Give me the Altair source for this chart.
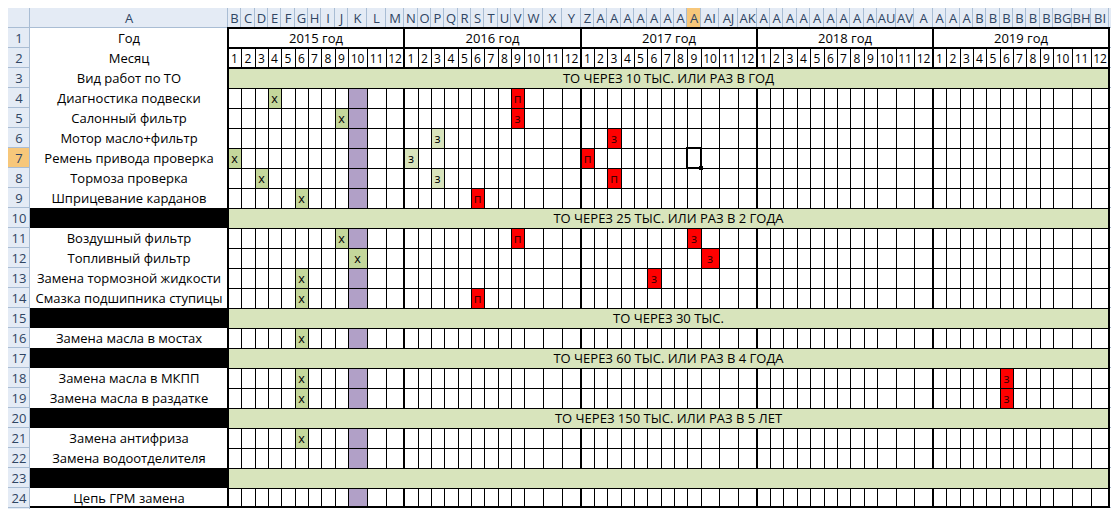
import altair as alt
import pandas as pd

# ---------------- data read from the sheet ----------------
years = [2015, 2016, 2017, 2018, 2019]
year_labels = ["2015 год", "2016 год", "2017 год", "2018 год", "2019 год"]
month_numbers = [1, 2, 3, 4, 5, 6, 7, 8, 9, 10, 11, 12]
column_letters = ["B", "C", "D", "E", "F", "G", "H", "I", "J", "K", "L", "M",
                  "N", "O", "P", "Q", "R", "S", "T", "U", "V", "W", "X", "Y",
                  "Z", "AA", "AB", "AC", "AD", "AE", "AF", "AG", "AH", "AI", "AJ", "AK",
                  "AL", "AM", "AN", "AO", "AP", "AQ", "AR", "AS", "AT", "AU", "AV", "AW",
                  "AX", "AY", "AZ", "BA", "BB", "BC", "BD", "BE", "BF", "BG", "BH", "BI"]
row_numbers = list(range(1, 25))
row_labels = ["Год", "Месяц", "Вид работ по ТО",
              "Диагностика подвески", "Салонный фильтр", "Мотор масло+фильтр",
              "Ремень привода проверка", "Тормоза проверка", "Шприцевание карданов",
              "", "Воздушный фильтр", "Топливный фильтр", "Замена тормозной жидкости",
              "Смазка подшипника ступицы", "", "Замена масла в мостах", "",
              "Замена масла в МКПП", "Замена масла в раздатке", "",
              "Замена антифриза", "Замена водоотделителя", "", "Цепь ГРМ замена"]
section_rows = [3, 10, 15, 17, 20, 23]
section_texts = ["ТО ЧЕРЕЗ 10 ТЫС. ИЛИ РАЗ В ГОД",
                 "ТО ЧЕРЕЗ 25 ТЫС. ИЛИ РАЗ В 2 ГОДА",
                 "ТО ЧЕРЕЗ 30 ТЫС.",
                 "ТО ЧЕРЕЗ 60 ТЫС. ИЛИ РАЗ В 4 ГОДА",
                 "ТО ЧЕРЕЗ 150 ТЫС. ИЛИ РАЗ В 5 ЛЕТ",
                 ""]
# done = green "х", plan = pale green "з", due = red
mark_rows = [4, 4, 5, 5, 6, 6, 7, 7, 7, 8, 8, 8, 9, 9,
             11, 11, 11, 12, 12, 13, 13, 14, 14, 16, 18, 18, 19, 19, 21]
mark_years = [2015, 2016, 2015, 2016, 2016, 2017, 2015, 2016, 2017, 2015, 2016, 2017, 2015, 2016,
              2015, 2016, 2017, 2015, 2017, 2015, 2017, 2015, 2016, 2015, 2015, 2019, 2015, 2019, 2015]
mark_months = [4, 9, 9, 9, 3, 3, 1, 1, 1, 3, 3, 3, 6, 6,
               9, 9, 9, 10, 10, 6, 6, 6, 6, 6, 6, 6, 6, 6, 6]
mark_letters = ["х", "п", "х", "з", "з", "з", "х", "з", "п", "х", "з", "п", "х", "п",
                "х", "п", "з", "х", "з", "х", "з", "х", "п", "х", "х", "з", "х", "з", "х"]
mark_kinds = ["done", "due", "done", "due", "plan", "due", "done", "plan", "due", "done", "plan", "due",
              "done", "due", "done", "due", "due", "done", "due", "done", "due", "done", "due",
              "done", "done", "due", "done", "due", "done"]
current_year, current_month = 2015, 10
selected_column, selected_row = "AH", 7

# ---------------- layout / style ----------------
W, H = 1103, 501
RN_W = 22
A_R = 220
NARROW, WIDE = 13.35, 18.7
HEAD_H = 20
ROW_H = 20.0
FONT = "Open Sans"

HDR = "#e4ebf5"
HDR_LINE = "#a9bdd4"
HDR_TEXT = "#2f4563"
SEL = "#f7c77a"
GREEN_SECTION = "#d8e4bc"
KIND_FILL = {"done": "#c4d79b", "plan": "#d8e4bc", "due": "#ff0000"}
KIND_TEXT = {"done": "#000000", "plan": "#000000", "due": "#3a0000"}
PURPLE = "#b1a0c7"

edges = [A_R]
pos = float(A_R)
for _y in years:
    for m in month_numbers:
        pos += NARROW if m <= 9 else WIDE
        edges.append(pos)
edges = [round(e) for e in edges]
END = edges[-1]
NCOL = len(edges) - 1


def ytop(r):
    return round(HEAD_H + (r - 1) * ROW_H)


def col_index(year, month):
    return years.index(year) * 12 + (month - 1)


# ---------------- fills ----------------
rects = []


def add_rect(x, x2, y, y2, fill):
    rects.append(dict(x=x, x2=x2, y=y, y2=y2, fill=fill))


add_rect(0, W, 0, HEAD_H, HDR)
add_rect(0, RN_W, 0, H, HDR)
si = column_letters.index(selected_column)
add_rect(edges[si], edges[si + 1], 0, HEAD_H, SEL)
add_rect(0, RN_W, ytop(selected_row), ytop(selected_row + 1), SEL)
for r in section_rows:
    add_rect(A_R, END, ytop(r), ytop(r + 1), GREEN_SECTION)
    if r != section_rows[0]:
        add_rect(RN_W, A_R, ytop(r), ytop(r + 1), "#000000")
marked = set()
for r, yv, mv in zip(mark_rows, mark_years, mark_months):
    marked.add((r, col_index(yv, mv)))
hi = col_index(current_year, current_month)
for r in range(4, 25):
    if r not in section_rows and (r, hi) not in marked:
        add_rect(edges[hi], edges[hi + 1], ytop(r), ytop(r + 1), PURPLE)
for r, yv, mv, kd in zip(mark_rows, mark_years, mark_months, mark_kinds):
    i = col_index(yv, mv)
    add_rect(edges[i], edges[i + 1], ytop(r), ytop(r + 1), KIND_FILL[kd])
rect_df = pd.DataFrame(rects)

# ---------------- lines ----------------
thin, thick, light = [], [], []


def seg(lst, x, y, x2, y2):
    lst.append(dict(x=x, y=y, x2=x2, y2=y2))


seg(light, 0, HEAD_H - 0.5, W, HEAD_H - 0.5)
seg(light, RN_W - 0.5, 0, RN_W - 0.5, H)
seg(light, A_R - 0.5, 0, A_R - 0.5, HEAD_H)
for e in edges:
    seg(light, e - 0.5, 0, e - 0.5, HEAD_H)
for r in range(1, 26):
    seg(light, 0, ytop(r) - 0.5, RN_W, ytop(r) - 0.5)
    seg(light, END, ytop(r) - 0.5, W, ytop(r) - 0.5)

for r in (1, 2, 3):
    seg(thick, A_R, ytop(r), END, ytop(r))
seg(thick, RN_W, ytop(25) - 1, END + 1, ytop(25) - 1)
seg(thick, A_R, ytop(1) - 1, A_R, ytop(25))
seg(thick, END, ytop(1) - 1, END, ytop(25))
year_bounds = [edges[12 * k] for k in range(1, len(years))]
body_rows = [r for r in range(4, 25) if r not in section_rows]
for xb in year_bounds:
    seg(thick, xb, ytop(1), xb, ytop(3))
    for r in body_rows:
        seg(thick, xb, ytop(r), xb, ytop(r + 1))

for r in range(4, 25):
    seg(thin, A_R, ytop(r) + 0.5, END, ytop(r) + 0.5)
inner = [e for e in edges[1:-1] if e not in year_bounds]
for e in inner:
    seg(thin, e + 0.5, ytop(2), e + 0.5, ytop(3))
    for r in body_rows:
        seg(thin, e + 0.5, ytop(r), e + 0.5, ytop(r + 1))

thin_df, thick_df, light_df = pd.DataFrame(thin), pd.DataFrame(thick), pd.DataFrame(light)

# ---------------- texts ----------------
texts = []


def add_text(x, y, t, size, color):
    texts.append(dict(x=x, y=y, t=t, size=size, color=color))


def ymid(r):
    return (ytop(r) + ytop(r + 1)) / 2 + 0.5


add_text((RN_W + A_R) / 2, HEAD_H / 2 + 0.5, "A", 13, HDR_TEXT)
for n in row_numbers:
    add_text(RN_W / 2, ymid(n), str(n), 13, HDR_TEXT)
for n, lab in zip(row_numbers, row_labels):
    if lab:
        add_text((RN_W + A_R) / 2, ymid(n), lab, 13, "#000000")
for k, yl in enumerate(year_labels):
    add_text((edges[12 * k] + edges[12 * k + 12]) / 2, ymid(1), yl, 13, "#000000")
for i in range(NCOL):
    add_text((edges[i] + edges[i + 1]) / 2, ymid(2), str(month_numbers[i % 12]), 12, "#000000")
for r, st in zip(section_rows, section_texts):
    if st:
        add_text((A_R + END) / 2, ymid(r), st, 13, "#000000")
for r, yv, mv, lt, kd in zip(mark_rows, mark_years, mark_months, mark_letters, mark_kinds):
    i = col_index(yv, mv)
    add_text((edges[i] + edges[i + 1]) / 2, ymid(r), lt, 12.5, KIND_TEXT[kd])
text_df = pd.DataFrame(texts)

narrow_hdr, wide_hdr = [], []
for i in range(NCOL):
    d = dict(x=(edges[i] + edges[i + 1]) / 2, y=HEAD_H / 2 + 0.5, t=column_letters[i])
    (narrow_hdr if (i % 12) < 9 else wide_hdr).append(d)
narrow_df, wide_df = pd.DataFrame(narrow_hdr), pd.DataFrame(wide_hdr)

sc = col_index(2017, 9)
sel_df = pd.DataFrame([dict(x=edges[sc], x2=edges[sc + 1],
                            y=ytop(selected_row), y2=ytop(selected_row + 1))])
handle_df = pd.DataFrame([dict(x=edges[sc + 1] - 2, x2=edges[sc + 1] + 2,
                               y=ytop(selected_row + 1) - 2, y2=ytop(selected_row + 1) + 2)])

# ---------------- chart ----------------
xs = alt.Scale(domain=[0, W], nice=False, zero=False)
ys = alt.Scale(domain=[0, H], nice=False, zero=False, reverse=True)


def X(f="x"):
    return alt.X(f + ":Q", scale=xs, axis=None)


def Y(f="y"):
    return alt.Y(f + ":Q", scale=ys, axis=None)


fills = alt.Chart(rect_df).mark_rect(strokeWidth=0).encode(
    x=X(), x2="x2:Q", y=Y(), y2="y2:Q", color=alt.Color("fill:N", scale=None))


def rules(df, color, width):
    return alt.Chart(df).mark_rule(color=color, strokeWidth=width, strokeCap="butt").encode(
        x=X(), x2="x2:Q", y=Y(), y2="y2:Q")


light_l = rules(light_df, HDR_LINE, 1)
thin_l = rules(thin_df, "#000000", 1)
thick_l = rules(thick_df, "#000000", 2)

txt = alt.Chart(text_df).mark_text(font=FONT, align="center", baseline="middle").encode(
    x=X(), y=Y(), text="t:N", size=alt.Size("size:Q", scale=None),
    color=alt.Color("color:N", scale=None))

hdr_n = alt.Chart(narrow_df).mark_text(font=FONT, fontSize=13, color=HDR_TEXT, align="center",
                                       baseline="middle", limit=13, ellipsis="\u200b").encode(
    x=X(), y=Y(), text="t:N")
hdr_w = alt.Chart(wide_df).mark_text(font=FONT, fontSize=13, color=HDR_TEXT, align="center",
                                     baseline="middle", limit=19, ellipsis="\u200b").encode(
    x=X(), y=Y(), text="t:N")

sel = alt.Chart(sel_df).mark_rect(fillOpacity=0, stroke="#000000", strokeWidth=2).encode(
    x=X(), x2="x2:Q", y=Y(), y2="y2:Q")
handle = alt.Chart(handle_df).mark_rect(color="#000000").encode(
    x=X(), x2="x2:Q", y=Y(), y2="y2:Q")

chart = alt.layer(fills, light_l, thin_l, thick_l, txt, hdr_n, hdr_w, sel, handle).properties(
    width=W, height=H, padding=0, autosize=alt.AutoSizeParams(type="none"),
    background="#ffffff"
).configure_view(stroke=None)

chart.save("out.html", embed_options={"renderer": "svg", "actions": False})
